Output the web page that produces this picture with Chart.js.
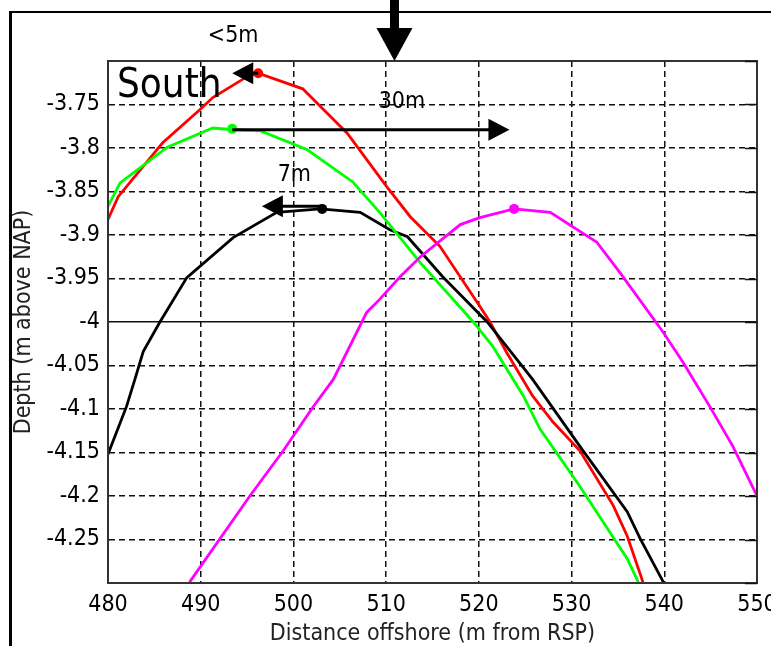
<!DOCTYPE html>
<html lang="en">
<head>
<meta charset="UTF-8" />
<title>South profile</title>
<script src="https://cdn.jsdelivr.net/npm/chart.js"></script>
<style>
  html, body { margin: 0; padding: 0; background: #fff; overflow: hidden; }
  .wrap { position: absolute; left: 0; top: 0; width: 800px; height: 648px; }
</style>
</head>
<body>
<div class="wrap"><canvas id="profileChart" width="800" height="648"></canvas></div>
<script>
// profile lines (distance offshore, depth)
const redX = [480, 481.1, 485.9, 489.9, 491.3, 495.0, 496.2, 501.0, 505.8, 510.1, 512.6, 515.8, 520.1, 521.2, 523.0, 525.8, 528.0, 530.9, 534.5, 536.0, 537.7];
const redY = [-3.882, -3.856, -3.794, -3.756, -3.742, -3.718, -3.714, -3.732, -3.783, -3.845, -3.879, -3.913, -3.982, -4.000, -4.035, -4.085, -4.115, -4.148, -4.211, -4.246, -4.299];

const greenX = [480, 481.3, 486.4, 491.3, 493.5, 496.4, 501.5, 506.4, 509.3, 513.7, 519.4, 521.5, 524.8, 526.6, 530.9, 536.0, 537.2];
const greenY = [-3.867, -3.840, -3.799, -3.777, -3.779, -3.780, -3.802, -3.839, -3.874, -3.932, -4.000, -4.028, -4.085, -4.123, -4.189, -4.272, -4.299];

const blackX = [480, 482.0, 482.9, 483.8, 485.6, 488.5, 493.5, 498.2, 502.9, 507.2, 510.4, 512.3, 516.1, 520.9, 525.8, 530.9, 536.0, 537.4, 539.9];
const blackY = [-4.152, -4.097, -4.066, -4.034, -4.000, -3.949, -3.903, -3.874, -3.870, -3.874, -3.894, -3.902, -3.948, -4.000, -4.066, -4.143, -4.218, -4.249, -4.299];

const magentaX = [488.8, 495.3, 498.9, 502.1, 504.3, 507.9, 509.3, 511.5, 513.7, 518.0, 520.1, 523.8, 527.7, 532.7, 535.2, 539.9, 542.0, 544.9, 547.4, 550];
const magentaY = [-4.299, -4.200, -4.148, -4.098, -4.066, -3.989, -3.974, -3.948, -3.925, -3.888, -3.880, -3.870, -3.874, -3.908, -3.943, -4.012, -4.046, -4.097, -4.143, -4.200];

// crest markers: red, green, black, magenta
const peakX = [496.2, 493.4, 503.1, 523.8];
const peakY = [-3.714, -3.778, -3.870, -3.870];
const peakColors = ['#ff0000', '#00ff00', '#000000', '#ff00ff'];

// shift arrows [from x, to x, y] and their labels [text, x, y]
const shiftArrows = [[496.2, 493.4, -3.714], [493.4, 523.3, -3.779], [503.1, 496.6, -3.867]];
const shiftLabels = [['<5m', 493.5, -3.671], ['30m', 511.7, -3.747], ['7m', 500.1, -3.831]];
const markerX = 510.9;

const xTicks = [480, 490, 500, 510, 520, 530, 540, 550];

const FONT = "'DejaVu Sans Condensed', 'DejaVu Sans', sans-serif";

function pts(xs, ys) {
  return xs.map((x, i) => ({ x: x, y: ys[i] }));
}

function arrowHead(ctx, x, y, dir, len, half) {
  ctx.beginPath();
  ctx.moveTo(x, y);
  ctx.lineTo(x - dir * len, y - half);
  ctx.lineTo(x - dir * len, y + half);
  ctx.closePath();
  ctx.fill();
}

const annotations = {
  id: 'annotations',
  afterDatasetsDraw(chart) {
    const ctx = chart.ctx;
    const xs = chart.scales.x, ys = chart.scales.y;
    const area = chart.chartArea;
    ctx.save();

    // plot frame (top and right) + inward ticks on the right
    ctx.strokeStyle = '#333';
    ctx.lineWidth = 2;
    ctx.strokeRect(area.left, area.top, area.right - area.left, area.bottom - area.top);
    ctx.lineWidth = 1.5;
    ctx.strokeStyle = '#111';
    ys.ticks.forEach(t => {
      const py = Math.round(ys.getPixelForValue(t.value)) + 0.5;
      ctx.beginPath();
      ctx.moveTo(area.right - 12, py);
      ctx.lineTo(area.right, py);
      ctx.stroke();
    });

    // South label
    ctx.fillStyle = '#000';
    ctx.font = '40px ' + FONT;
    ctx.textAlign = 'left';
    ctx.textBaseline = 'alphabetic';
    ctx.fillText('South', area.left + 9, area.top + 36);

    // shift arrows
    ctx.strokeStyle = '#000';
    ctx.fillStyle = '#000';
    ctx.lineWidth = 3;
    shiftArrows.forEach(a => {
      const x1 = xs.getPixelForValue(a[0]);
      const x2 = xs.getPixelForValue(a[1]);
      const py = ys.getPixelForValue(a[2]);
      const dir = x2 > x1 ? 1 : -1;
      ctx.beginPath();
      ctx.moveTo(x1, py);
      ctx.lineTo(x2 - dir * 15, py);
      ctx.stroke();
      arrowHead(ctx, x2, py, dir, 21, 11);
    });

    ctx.font = '23px ' + FONT;
    ctx.textAlign = 'center';
    ctx.textBaseline = 'middle';
    shiftLabels.forEach(l => {
      ctx.fillText(l[0], xs.getPixelForValue(l[1]), ys.getPixelForValue(l[2]));
    });

    // big marker arrow from the top
    const mx = xs.getPixelForValue(markerX);
    ctx.fillRect(mx - 4.5, 0, 9, area.top - 32);
    ctx.beginPath();
    ctx.moveTo(mx - 18, area.top - 33);
    ctx.lineTo(mx + 18, area.top - 33);
    ctx.lineTo(mx, area.top);
    ctx.closePath();
    ctx.fill();

    // outer figure frame
    ctx.fillRect(9, 11, 3, 700);
    ctx.fillRect(9, 11, 800, 2);
    ctx.restore();
  }
};

const ctx = document.getElementById('profileChart').getContext('2d');

new Chart(ctx, {
  type: 'line',
  data: {
    datasets: [
      { data: pts(magentaX, magentaY), borderColor: '#ff00ff' },
      { data: pts(greenX, greenY), borderColor: '#00ff00' },
      { data: pts(blackX, blackY), borderColor: '#000000' },
      { data: pts(redX, redY), borderColor: '#ff0000' },
      {
        data: pts(peakX, peakY),
        showLine: false,
        pointRadius: 5,
        pointBorderWidth: 0,
        pointBackgroundColor: peakColors
      }
    ]
  },
  options: {
    responsive: false,
    animation: false,
    layout: { padding: { top: 61, left: 4, right: 43, bottom: 0 } },
    elements: {
      line: { borderWidth: 2.8, tension: 0 },
      point: { radius: 0 }
    },
    plugins: {
      legend: { display: false },
      tooltip: { enabled: false }
    },
    scales: {
      x: {
        type: 'linear',
        min: 480,
        max: 550,
        afterBuildTicks: scale => { scale.ticks = xTicks.map(v => ({ value: v })); },
        afterFit: scale => { scale.height = 65; },
        grid: { color: '#111', lineWidth: 1.5, drawTicks: false },
        border: { color: '#333', width: 2, dash: [6, 4] },
        ticks: { color: '#000', padding: 8, font: { family: FONT, size: 23 }, maxRotation: 0 },
        title: { display: true, text: 'Distance offshore (m from RSP)', color: '#222', padding: 0,
          font: { family: FONT, size: 23 } }
      },
      y: {
        min: -4.3,
        max: -3.7,
        afterFit: scale => { scale.width = 104; },
        ticks: {
          stepSize: 0.05,
          color: '#000',
          padding: 8,
          font: { family: FONT, size: 23 },
          callback: v => (Math.abs(v + 3.7) < 1e-6 || Math.abs(v + 4.3) < 1e-6) ? '' : String(Number(v.toFixed(2)))
        },
        grid: { color: '#111', lineWidth: 1.5, drawTicks: false },
        border: {
          color: '#333',
          width: 2,
          dash: c => (c.tick && Math.abs(c.tick.value + 4) < 1e-6) ? [] : [6, 4]
        },
        title: { display: true, text: 'Depth (m above NAP)', color: '#222', padding: { top: 6, bottom: 0 },
          font: { family: FONT, size: 23 } }
      }
    }
  },
  plugins: [annotations]
});
</script>
</body>
</html>
